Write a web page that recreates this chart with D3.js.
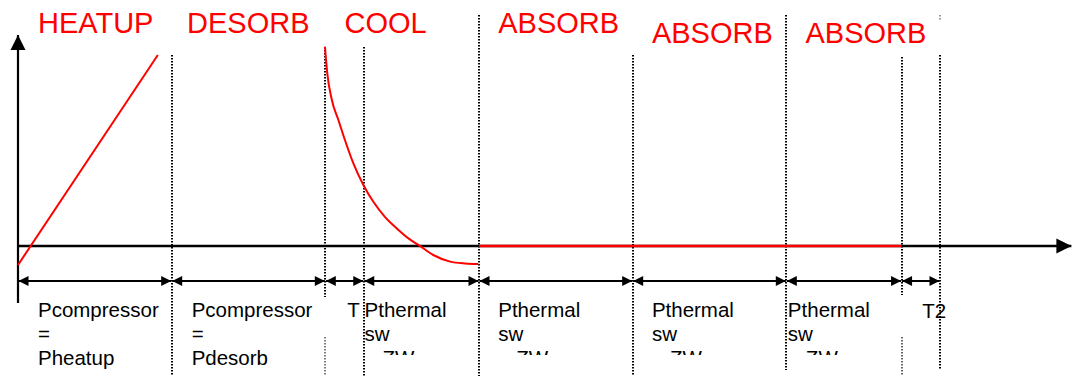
<!DOCTYPE html>
<html>
<head>
<meta charset="utf-8">
<script src="https://cdn.jsdelivr.net/npm/d3@7"></script>
<style>
  html, body { margin: 0; padding: 0; background: #fff; }
  svg { display: block; }
  text { font-family: "Liberation Sans", Arial, sans-serif; }
</style>
</head>
<body>
<svg id="chart" width="1072" height="376"></svg>
<script>
// ---- data ----
const boundaries = [0, 4, 8, 9, 12, 16, 20, 23, 24];
const phaseNames = ["HEATUP", "DESORB", "COOL", "ABSORB", "ABSORB", "ABSORB"];
const phaseStart = [0.52, 4.4, 8.5, 12.5, 16.5, 20.5];
const phaseRow = [0, 0, 0, 0, 1, 1];

const heatupT = [0, 3.64];
const heatupV = [-0.95, 9.55];

const coolT = [7.99, 8.05, 8.17, 8.34, 8.51, 8.73, 8.99, 9.25, 9.55, 9.86, 10.2, 10.45, 10.81, 11.25, 11.64, 11.98];
const coolV = [9.97, 8.64, 7.3, 6.3, 5.3, 4.13, 3.05, 2.21, 1.46, 0.88, 0.33, 0.02, -0.45, -0.78, -0.87, -0.9];

const absorbT = [12, 23];
const absorbV = [0, 0];

const bottomLabels = [
  ["Pcompressor", "=", "Pheatup"],
  ["Pcompressor", "=", "Pdesorb"],
  ["T"],
  ["Pthermal", "sw", "ZW"],
  ["Pthermal", "sw", "ZW"],
  ["Pthermal", "sw", "ZW"],
  ["Pthermal", "sw", "ZW"],
  ["T2"]
];
const bottomLabelT = [0.52, 4.52, 8.57, 9.02, 12.5, 16.5, 20.04, 23.54];

// dotted divider extents (value units) per boundary index
const dividerSegs = [
  null,
  [[9.55, -6.5, 1]],
  [[9.95, -2.55, 1], [-4.55, -6.5, 0.5]],
  [[9.95, -6.5, 1]],
  [[11.55, -6.5, 1]],
  [[9.55, -6.5, 1]],
  [[11.55, -6.2, 1]],
  [[9.45, -2.45, 1], [-4.55, -6.5, 0.6]],
  [[11.55, 11.3, 0.4], [9.55, -6.2, 1]]
];

// ---- layout ----
const svg = d3.select("#chart");
const x = d3.scaleLinear().domain([0, 24]).range([18, 940]);
const y = d3.scaleLinear().domain([0, 10]).range([246, 46]);

const defs = svg.append("defs");
function marker(id, path, refX) {
  defs.append("marker").attr("id", id)
    .attr("viewBox", "0 0 10 10").attr("refX", refX).attr("refY", 5)
    .attr("markerUnits", "userSpaceOnUse")
    .attr("markerWidth", 11).attr("markerHeight", 10)
    .attr("orient", "auto")
    .append("path").attr("d", path).attr("fill", "#000");
}
marker("arrEnd", "M0,0 L10,5 L0,10 Z", 10);
marker("arrStart", "M10,0 L0,5 L10,10 Z", 0);
defs.append("marker").attr("id", "axisEnd")
  .attr("viewBox", "0 0 10 10").attr("refX", 10).attr("refY", 5)
  .attr("markerUnits", "userSpaceOnUse")
  .attr("markerWidth", 15).attr("markerHeight", 16)
  .attr("orient", "auto")
  .append("path").attr("d", "M0,0 L10,5 L0,10 Z").attr("fill", "#000");

defs.append("clipPath").attr("id", "textClip")
  .append("rect").attr("x", 0).attr("y", 0).attr("width", 1072).attr("height", 355);

// dotted dividers
boundaries.forEach((b, i) => {
  const segs = dividerSegs[i];
  if (!segs) return;
  const px = Math.round(x(b));
  segs.forEach(s => {
    svg.append("line")
      .attr("x1", px).attr("x2", px)
      .attr("y1", Math.round(y(s[0]))).attr("y2", Math.round(y(s[1])))
      .attr("stroke", "#000").attr("stroke-width", 2)
      .attr("stroke-dasharray", "1.5,1.5")
      .attr("opacity", s[2]);
  });
});

// axes
svg.append("line")
  .attr("x1", x(0)).attr("x2", x(0))
  .attr("y1", y(-2.85)).attr("y2", y(10.55))
  .attr("stroke", "#000").attr("stroke-width", 2.2)
  .attr("marker-end", "url(#axisEnd)");
svg.append("line")
  .attr("x1", x(0)).attr("x2", x(27.42))
  .attr("y1", y(0)).attr("y2", y(0))
  .attr("stroke", "#000").attr("stroke-width", 2.4)
  .attr("marker-end", "url(#axisEnd)");

// double arrows
d3.range(boundaries.length - 1).forEach(i => {
  svg.append("line")
    .attr("x1", x(boundaries[i]) + 0.5).attr("x2", x(boundaries[i + 1]) - 0.5)
    .attr("y1", y(-1.75)).attr("y2", y(-1.75))
    .attr("stroke", "#000").attr("stroke-width", 2)
    .attr("marker-start", "url(#arrStart)")
    .attr("marker-end", "url(#arrEnd)");
});

// red curves
const straight = d3.line().x(d => x(d[0])).y(d => y(d[1]));
const smooth = d3.line().x(d => x(d[0])).y(d => y(d[1])).curve(d3.curveMonotoneX);
svg.append("path")
  .datum(heatupT.map((t, i) => [t, heatupV[i]]))
  .attr("d", straight).attr("fill", "none").attr("stroke", "#ff0000").attr("stroke-width", 2);
svg.append("path")
  .datum(coolT.map((t, i) => [t, coolV[i]]))
  .attr("d", smooth).attr("fill", "none").attr("stroke", "#ff0000").attr("stroke-width", 2);
svg.append("path")
  .datum(absorbT.map((t, i) => [t, absorbV[i]]))
  .attr("d", straight).attr("fill", "none").attr("stroke", "#ff0000").attr("stroke-width", 2.4);

// phase titles
phaseNames.forEach((n, i) => {
  svg.append("text")
    .attr("x", x(phaseStart[i])).attr("y", phaseRow[i] ? 43 : 33)
    .attr("fill", "#ff0000").attr("font-size", "29px")
    .text(n);
});

// bottom labels
const lineBase = [317, 341, 365];
bottomLabels.forEach((lines, i) => {
  lines.forEach((s, j) => {
    const t = svg.append("text")
      .attr("x", x(bottomLabelT[i]) + (j === 2 && s === "ZW" ? 18 : 0))
      .attr("y", lineBase[j] + (s === "T2" ? 1 : 0))
      .attr("fill", "#000").attr("font-size", "20.5px")
      .text(s);
    if (j === 2 && s === "ZW") t.attr("clip-path", "url(#textClip)");
  });
});
</script>
</body>
</html>
